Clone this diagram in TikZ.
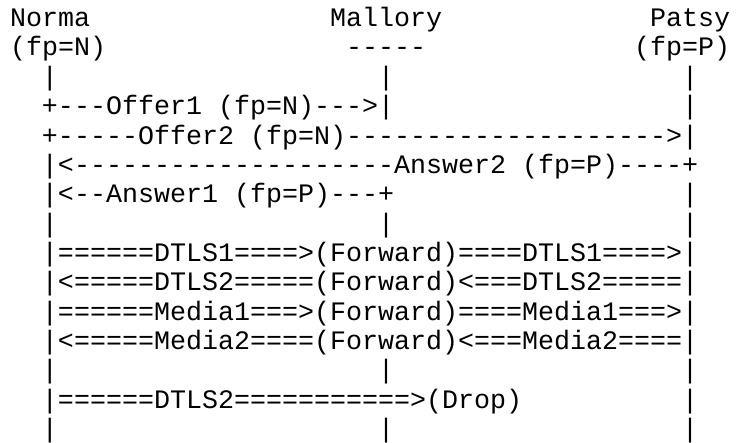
\documentclass[tikz,border=0pt]{standalone}
\usepackage{fontspec}
\setmonofont{Liberation Mono}
% one character cell of the 20pt monospaced font
\newdimen\chw \chw=12pt
\newcommand\gap[1]{\hspace*{#1\chw}}
\tikzset{
  asciiline/.style={anchor=base west, inner sep=0pt, outer sep=0pt,
    font=\ttfamily\fontsize{20pt}{22pt}\selectfont, text=black}
}
\begin{document}
\begin{tikzpicture}
\useasboundingbox (0,0) rectangle (555.75pt,-331.5pt);
% header: the three parties
\node[asciiline] (row0)  at (7.5pt,-20pt)  {Norma\gap{15}Mallory\gap{13}Patsy};
\node[asciiline] (row1)  at (7.5pt,-42pt)  {(fp=N)\gap{15}-{}-{}-{}-{}-\gap{13}(fp=P)};
\node[asciiline] (row2)  at (7.5pt,-64pt)  {\gap{2}|\gap{20}|\gap{18}|};
% signalling
\node[asciiline] (row3)  at (7.5pt,-86pt)  {\gap{2}+-{}-{}-Offer1\gap{1}(fp=N)-{}-{}->|\gap{18}|};
\node[asciiline] (row4)  at (7.5pt,-108pt) {\gap{2}+-{}-{}-{}-{}-Offer2\gap{1}(fp=N)-{}-{}-{}-{}-{}-{}-{}-{}-{}-{}-{}-{}-{}-{}-{}-{}-{}-{}-{}->|};
\node[asciiline] (row5)  at (7.5pt,-130pt) {\gap{2}|<-{}-{}-{}-{}-{}-{}-{}-{}-{}-{}-{}-{}-{}-{}-{}-{}-{}-{}-{}-Answer2\gap{1}(fp=P)-{}-{}-{}-+};
\node[asciiline] (row6)  at (7.5pt,-152pt) {\gap{2}|<-{}-Answer1\gap{1}(fp=P)-{}-{}-+\gap{18}|};
\node[asciiline] (row7)  at (7.5pt,-174pt) {\gap{2}|\gap{20}|\gap{18}|};
% forwarded traffic
\node[asciiline] (row8)  at (7.5pt,-196pt) {\gap{2}|======DTLS1====>(Forward)====DTLS1====>|};
\node[asciiline] (row9)  at (7.5pt,-218pt) {\gap{2}|<=====DTLS2=====(Forward)<===DTLS2=====|};
\node[asciiline] (row10) at (7.5pt,-240pt) {\gap{2}|======Media1===>(Forward)====Media1===>|};
\node[asciiline] (row11) at (7.5pt,-262pt) {\gap{2}|<=====Media2====(Forward)<===Media2====|};
\node[asciiline] (row12) at (7.5pt,-284pt) {\gap{2}|\gap{20}|\gap{18}|};
% dropped packet
\node[asciiline] (row13) at (7.5pt,-306pt) {\gap{2}|======DTLS2===========>(Drop)\gap{10}|};
\node[asciiline] (row14) at (7.5pt,-328pt) {\gap{2}|\gap{20}|\gap{18}|};
\end{tikzpicture}
\end{document}
